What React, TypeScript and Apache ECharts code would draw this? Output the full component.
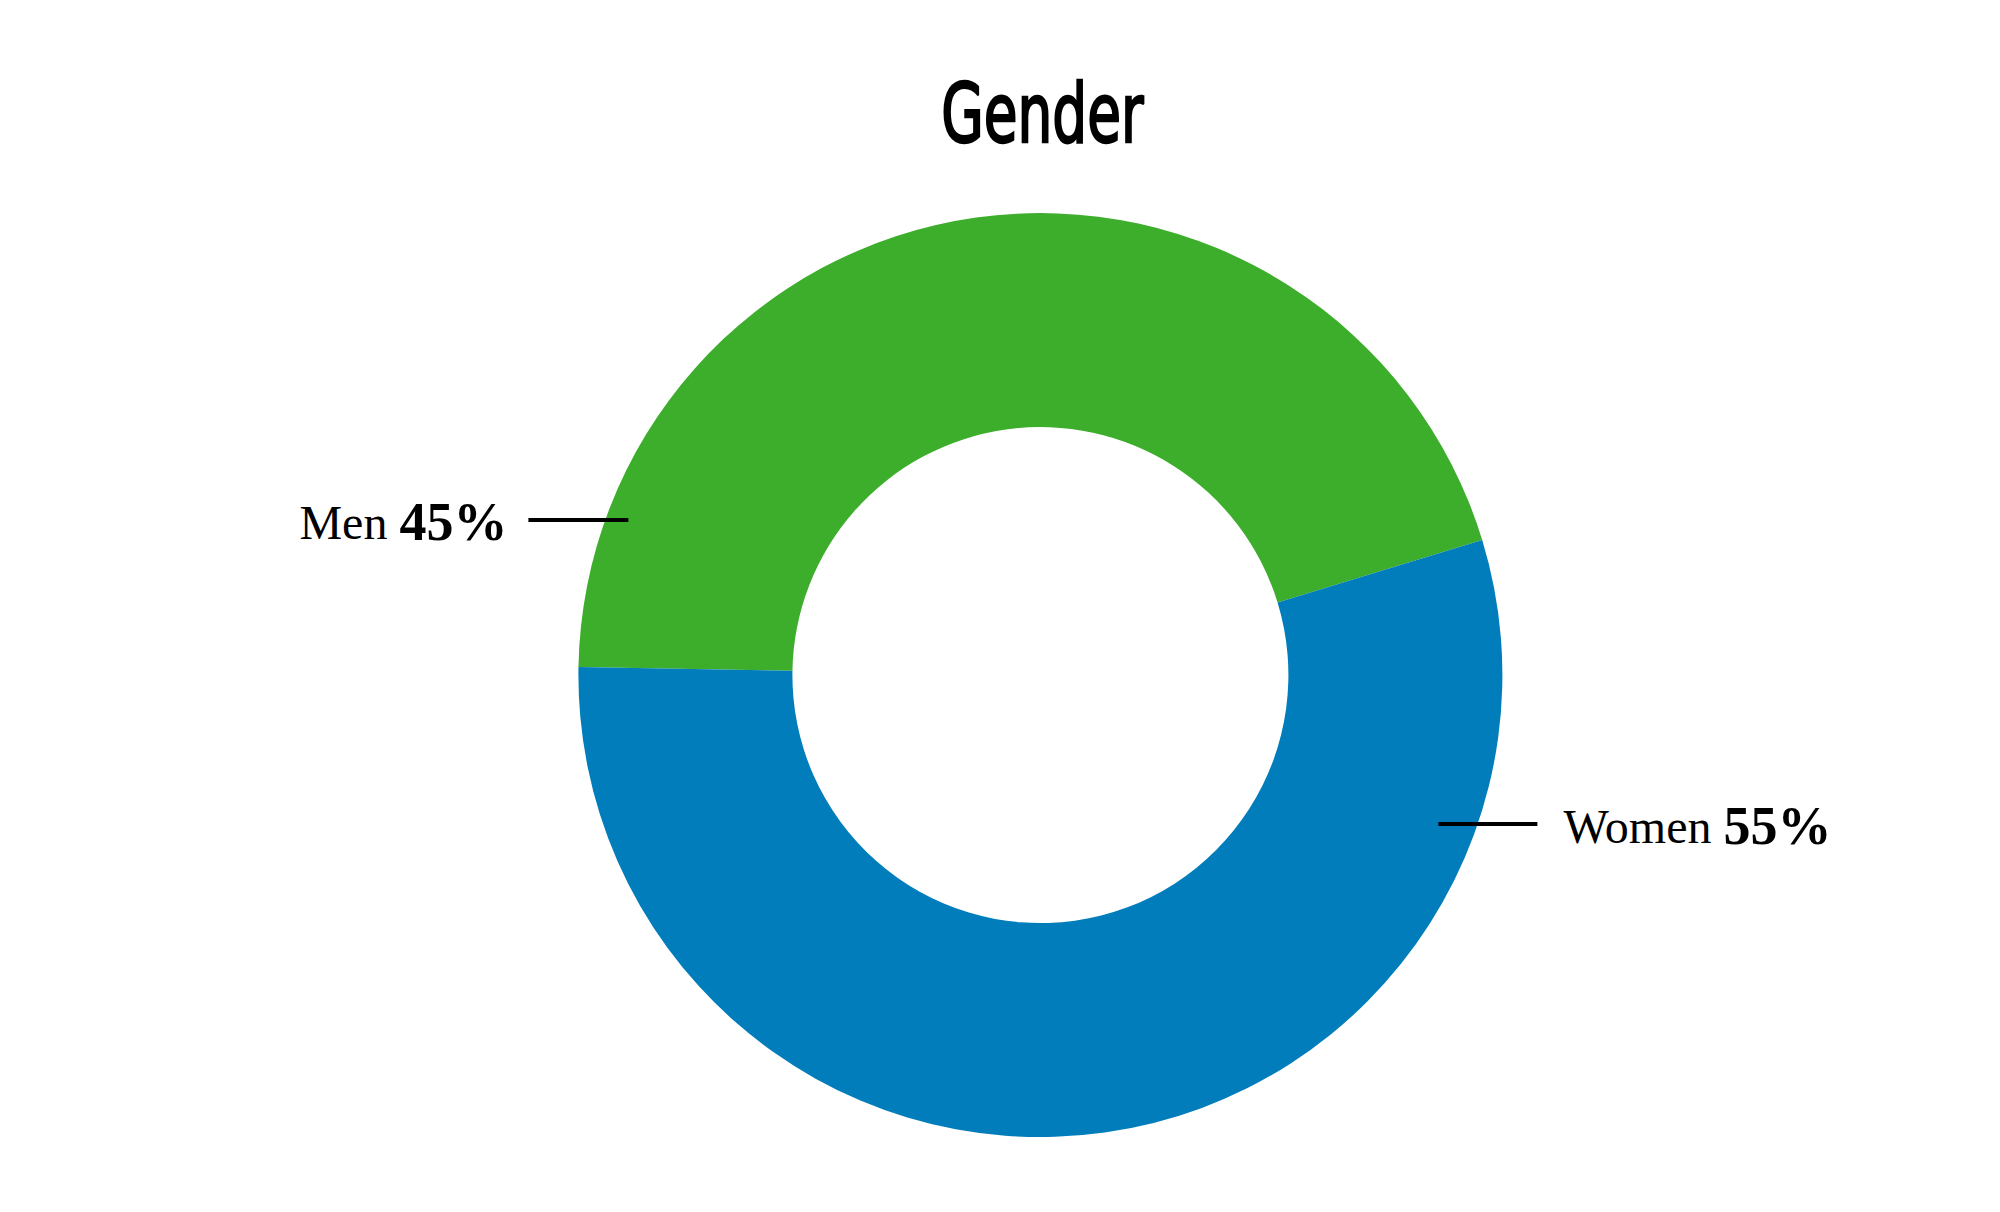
import React, { useEffect, useRef } from "react";
import * as echarts from "echarts";

const titleText = "Gender";
const categories = ["Men", "Women"];
const values = [45, 55];
const colors = ["#3DAE2B", "#007DBA"];

export default function App() {
  const ref = useRef<HTMLDivElement>(null);
  useEffect(() => {
    if (!ref.current) return;
    const chart = echarts.init(ref.current, undefined, { renderer: "svg" });
    const W = chart.getWidth();
    const H = chart.getHeight();
    const cx = W * 0.5202;
    const cy = H * 0.557;
    const base = {
      type: "pie",
      center: [cx, cy],
      radius: [248, 462],
      startAngle: 179,
      clockwise: true,
      avoidLabelOverlap: false,
      emphasis: { disabled: true },
      silent: true,
    };
    chart.setOption({
      animation: false,
      backgroundColor: "#ffffff",
      graphic: [
        {
          type: "text",
          x: cx + 2,
          y: 113,
          scaleX: 0.67,
          style: {
            text: titleText,
            fontFamily: "'DejaVu Sans', sans-serif",
            fontSize: 82,
            fontWeight: "normal",
            fill: "#000",
            stroke: "#000",
            lineWidth: 2.5,
            align: "center",
            verticalAlign: "middle",
          },
        },
      ],
      series: [
        {
          ...base,
          z: 2,
          data: categories.map((c, i) => ({
            name: c,
            value: values[i],
            itemStyle: { color: colors[i] },
          })),
          label: { show: false },
          labelLine: { show: false },
        },
        {
          ...base,
          z: 5,
          data: categories.map((c, i) => ({
            name: c,
            value: values[i],
            itemStyle: { color: "rgba(0,0,0,0)" },
          })),
          label: {
            show: true,
            position: "outside",
            formatter: (p: any) => `{n|${p.name}\u00a0}{v|${p.value}%}`,
            rich: {
              n: {
                fontFamily: "'Liberation Serif', serif",
                fontSize: 48,
                color: "#000",
              },
              v: {
                fontFamily: "'Liberation Serif', serif",
                fontSize: 54,
                fontWeight: "bold",
                color: "#000",
              },
            },
          },
          labelLine: {
            show: true,
            showAbove: true,
            lineStyle: { color: "#000", width: 4 },
          },
          labelLayout: (params: any) => {
            if (params.dataIndex === 0) {
              const y = cy - 155;
              return {
                x: cx - 533,
                y: y + 2,
                align: "right",
                verticalAlign: "middle",
                labelLinePoints: [
                  [cx - 412, y],
                  [cx - 462, y],
                  [cx - 512, y],
                ],
              };
            }
            const y = cy + 149;
            return {
              x: cx + 523,
              y: y + 2,
              align: "left",
              verticalAlign: "middle",
              labelLinePoints: [
                [cx + 398, y],
                [cx + 448, y],
                [cx + 497, y],
              ],
            };
          },
        },
      ],
    });
    return () => chart.dispose();
  }, []);
  return (
    <div
      ref={ref}
      style={{ position: "fixed", left: 0, top: 0, width: "100vw", height: "100vh", background: "#fff" }}
    />
  );
}
